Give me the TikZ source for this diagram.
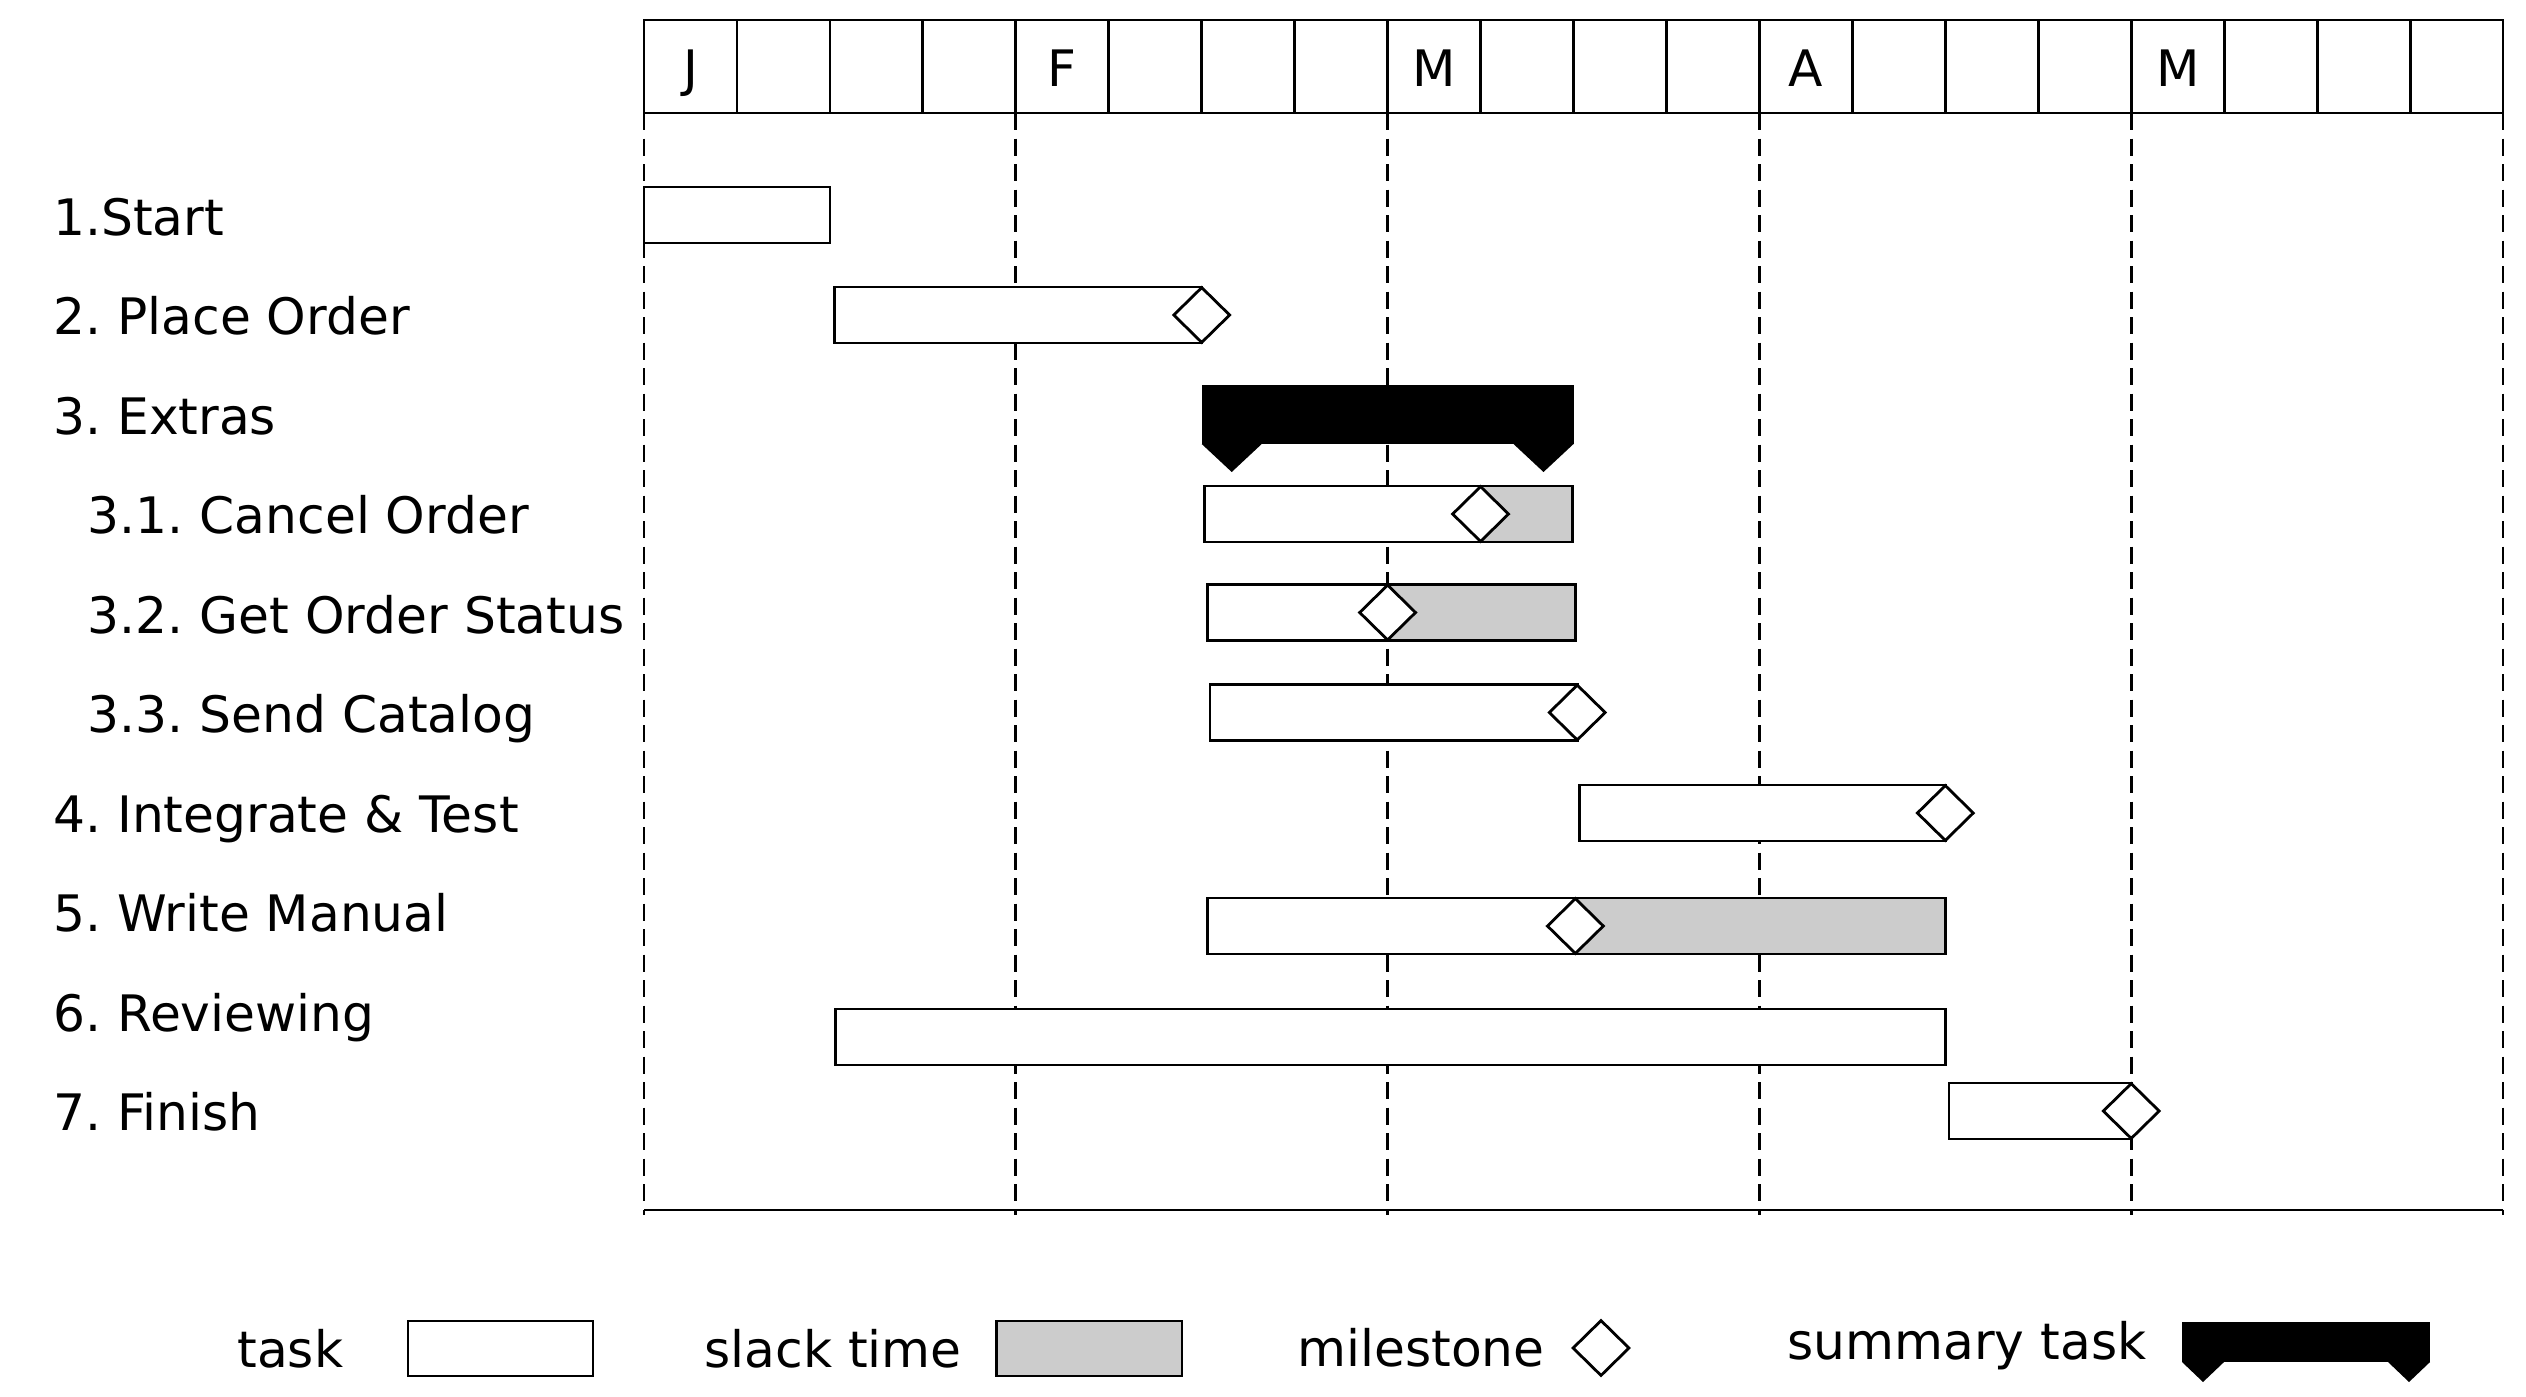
\documentclass[tikz,border=0pt]{standalone}
\usepackage{fontspec}
\setmainfont{DejaVu Sans}
\usetikzlibrary{shapes.geometric}
\definecolor{slack}{HTML}{CCCCCC}
\frenchspacing

\begin{document}
\begin{tikzpicture}[
  line width=0.8pt,
  lbl/.style={anchor=base west, inner sep=0pt, font=\fontsize{14.3}{17}\selectfont},
  month/.style={anchor=base, inner sep=0pt, font=\fontsize{14.3}{17}\selectfont},
  task/.style={draw, fill=white},
  milestone/.style={diamond, draw, fill=white, inner sep=0pt, minimum width=0.57cm, minimum height=0.56cm},
  monthline/.style={dash pattern=on 0.17cm off 0.085cm}
]
  \useasboundingbox (0,0) rectangle (25.26,-13.96);

  % Left: task names
  \node[lbl] (t1)  at (0.52,-2.35)   {1.Start};
  \node[lbl] (t2)  at (0.52,-3.345)  {2. Place Order};
  \node[lbl] (t3)  at (0.52,-4.34)   {3. Extras};
  \node[lbl] (t31) at (0.865,-5.335) {3.1. Cancel Order};
  \node[lbl] (t32) at (0.865,-6.33)  {3.2. Get Order Status};
  \node[lbl] (t33) at (0.865,-7.325) {3.3. Send Catalog};
  \node[lbl] (t4)  at (0.52,-8.32)   {4. Integrate \& Test};
  \node[lbl] (t5)  at (0.52,-9.315)  {5. Write Manual};
  \node[lbl] (t6)  at (0.52,-10.31)  {6. Reviewing};
  \node[lbl] (t7)  at (0.52,-11.305) {7. Finish};

  % Chart, one unit = one week
  \begin{scope}[x=0.9295cm, shift={(6.44cm,0cm)}]
    % header
    \foreach \i in {0,...,19}
      \draw (\i,-0.20) rectangle (\i+1,-1.13);
    \foreach \lt/\col in {J/0, F/4, M/8, A/12, M/16}
      \node[month] (m\col) at (\col+0.5,-0.86) {\lt};

    % month lines and axis
    \foreach \col in {0,4,...,20}
      \draw[monthline] (\col,-1.13) -- (\col,-12.15);
    \draw (0,-12.10) -- (20,-12.10);

    % 1. Start
    \draw[task] (0,-1.87) rectangle (2,-2.43);

    % 2. Place Order
    \draw[task] (2.05,-2.87) rectangle (6,-3.43);
    \node[milestone] (ms2) at (6,-3.15) {};

    % 3. Extras (summary)
    \fill (6,-3.85) rectangle (10,-4.44);
    \fill (6,-4.44) -- ++(0.3cm,-0.28cm) -- ++(0.3cm,0.28cm) -- cycle;
    \fill (10,-4.44) -- ++(-0.3cm,-0.28cm) -- ++(-0.3cm,0.28cm) -- cycle;

    % 3.1 - 3.3
    \draw[task] (6.03,-4.86) rectangle (9,-5.42);
    \draw[task, fill=slack] (9,-4.86) rectangle (9.99,-5.42);
    \node[milestone] (ms31) at (9,-5.14) {};

    \draw[task] (6.06,-5.845) rectangle (8,-6.405);
    \draw[task, fill=slack] (8,-5.845) rectangle (10.02,-6.405);
    \node[milestone] (ms32) at (8,-6.125) {};

    \draw[task] (6.09,-6.845) rectangle (10.04,-7.405);
    \node[milestone] (ms33) at (10.04,-7.125) {};

    % 4. Integrate & Test
    \draw[task] (10.06,-7.85) rectangle (14,-8.41);
    \node[milestone] (ms4) at (14,-8.13) {};

    % 5. Write Manual
    \draw[task] (6.06,-8.98) rectangle (10.02,-9.54);
    \draw[task, fill=slack] (10.02,-8.98) rectangle (14,-9.54);
    \node[milestone] (ms5) at (10.02,-9.26) {};

    % 6. Reviewing
    \draw[task] (2.06,-10.09) rectangle (14,-10.65);

    % 7. Finish
    \draw[task] (14.04,-10.83) rectangle (16,-11.39);
    \node[milestone] (ms7) at (16,-11.11) {};
  \end{scope}

  % Legend
  \node[lbl] (lgtask) at (2.36,-13.67) {task};
  \draw[task] (4.08,-13.21) rectangle (5.93,-13.76);
  \node[lbl] (lgslack) at (7.03,-13.67) {slack time};
  \draw[task, fill=slack] (9.965,-13.21) rectangle (11.82,-13.76);
  \node[lbl] (lgmile) at (12.96,-13.66) {milestone};
  \node[milestone] (lgms) at (16.01,-13.48) {};
  \node[lbl] (lgsum) at (17.86,-13.59) {summary task};
  \fill (21.82,-13.22) rectangle (24.30,-13.62);
  \fill (21.82,-13.62) -- ++(0.21,-0.20) -- ++(0.21,0.20) -- cycle;
  \fill (24.30,-13.62) -- ++(-0.21,-0.20) -- ++(-0.21,0.20) -- cycle;
\end{tikzpicture}
\end{document}
